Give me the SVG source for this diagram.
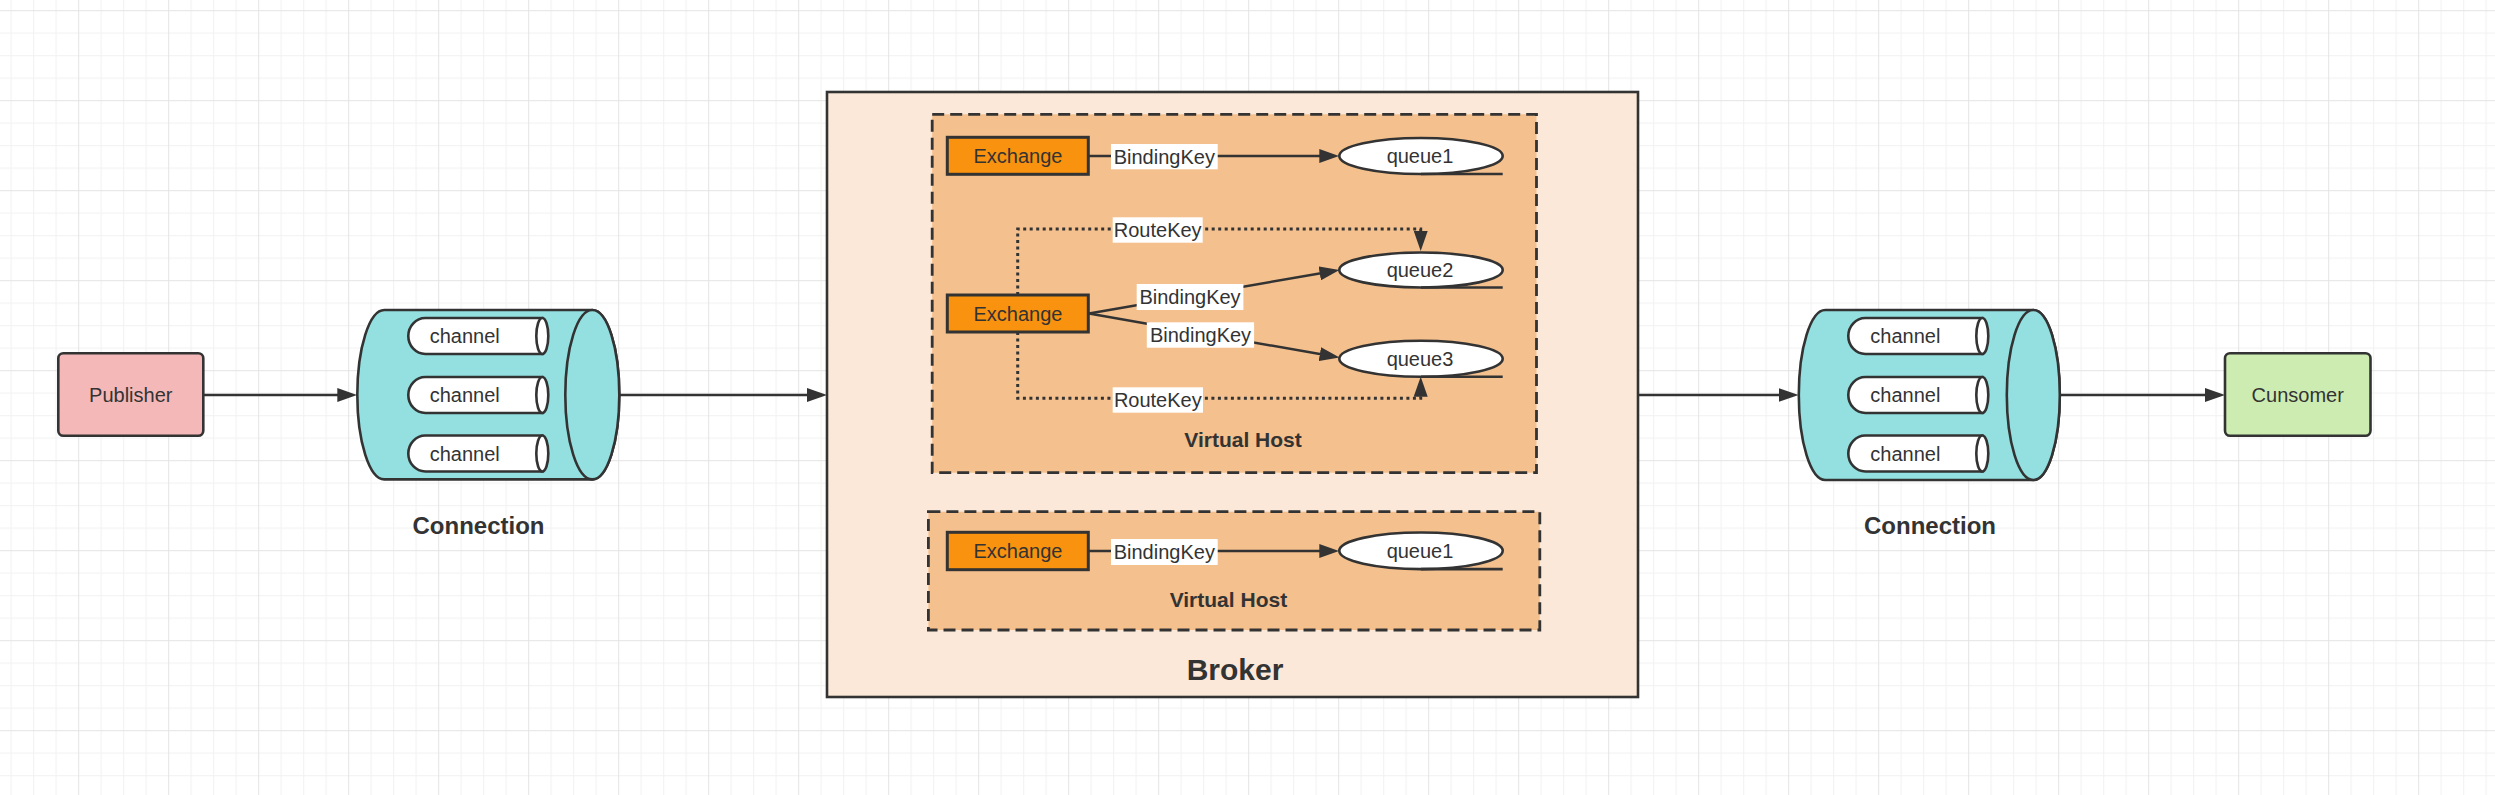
<svg xmlns="http://www.w3.org/2000/svg" width="2495" height="795" viewBox="0 0 2495 795">
<style>
text{font-family:"Liberation Sans",Arial,sans-serif;fill:#333;text-anchor:middle}
.t20{font-size:20px}
.bold{font-weight:bold}
.node{stroke:#333;stroke-width:2.6}
.cyl{fill:#94e0e1;stroke:#333;stroke-width:2.6}
.chan{fill:#fff;stroke:#333;stroke-width:2.6}
.vh{fill:#f4c08e;stroke:#333;stroke-width:2.8;stroke-dasharray:12 6}
.exch{fill:#f8920f;stroke:#333;stroke-width:3}
.queue{fill:#fff;stroke:#333;stroke-width:2.6}
.edge{fill:none;stroke:#333;stroke-width:2.4}
.dot{fill:none;stroke:#333;stroke-width:3;stroke-dasharray:3 3.5}
.lbl{fill:#fff}
</style>
<defs>
<pattern id="grid" patternUnits="userSpaceOnUse" x="78.2" y="10.2" width="90" height="90">
<path d="M23 0V90M45.5 0V90M68 0V90M0 23H90M0 45.5H90M0 68H90" stroke="#f1f1f1" stroke-width="1" fill="none"/>
<path d="M0.5 0V90M0 0.5H90" stroke="#e4e4e4" stroke-width="1" fill="none"/>
</pattern>
<marker id="arr" markerUnits="userSpaceOnUse" markerWidth="20" markerHeight="14" refX="10" refY="7" orient="auto">
<path d="M0,0 L20,7 L0,14 Z" fill="#333"/>
</marker>
</defs>
<rect width="2495" height="795" fill="#fff"/>
<rect width="2495" height="795" fill="url(#grid)"/>

<g id="broker">
<rect x="827" y="92" width="811" height="605" fill="#fbe8d8" stroke="#333" stroke-width="2.6"/>
<text x="1235" y="680" class="bold" font-size="30">Broker</text>
</g>

<g id="vhost1">
<rect class="vh" x="932.2" y="114.3" width="604.3" height="358.4"/>
<text x="1243" y="446.5" class="bold" font-size="21">Virtual Host</text>
</g>
<g id="vhost2">
<rect class="vh" x="928.4" y="511.7" width="611.4" height="118.3"/>
<text x="1228.4" y="606.5" class="bold" font-size="21">Virtual Host</text>
</g>

<g id="connectors">
<line class="edge" x1="203.3" y1="395" x2="347.3" y2="395" marker-end="url(#arr)"/>
<line class="edge" x1="619.3" y1="395" x2="817" y2="395" marker-end="url(#arr)"/>
<line class="edge" x1="1638" y1="395" x2="1788.6" y2="395" marker-end="url(#arr)"/>
<line class="edge" x1="2059.5" y1="395" x2="2215" y2="395" marker-end="url(#arr)"/>
<line class="edge" x1="1088.3" y1="156" x2="1329.3" y2="156" marker-end="url(#arr)"/>
<line class="edge" x1="1089" y1="313.5" x2="1329.6" y2="271.7" marker-end="url(#arr)"/>
<line class="edge" x1="1089" y1="313.5" x2="1329.7" y2="355.8" marker-end="url(#arr)"/>
<line class="edge" x1="1088.3" y1="551" x2="1329.3" y2="551" marker-end="url(#arr)"/>
<path class="dot" d="M1017.7 295 V229 H1420.7 V241" marker-end="url(#arr)"/>
<path class="dot" d="M1017.7 332 V398.3 H1420.7 V386.7" marker-end="url(#arr)"/>
<rect class="lbl" x="1111" y="144" width="106.7" height="25.3"/>
<text x="1164.3" y="163.5" class="t20">BindingKey</text>
<rect class="lbl" x="1112.7" y="217.3" width="90" height="25.4"/>
<text x="1157.7" y="237" class="t20">RouteKey</text>
<rect class="lbl" x="1136.7" y="284" width="106.7" height="26"/>
<text x="1190" y="304" class="t20">BindingKey</text>
<rect class="lbl" x="1146.8" y="322.3" width="107.3" height="25.4"/>
<text x="1200.5" y="342" class="t20">BindingKey</text>
<rect class="lbl" x="1112.7" y="387.3" width="90.3" height="25.4"/>
<text x="1157.8" y="407" class="t20">RouteKey</text>
<rect class="lbl" x="1111" y="539" width="106.7" height="26"/>
<text x="1164.3" y="559" class="t20">BindingKey</text>
</g>

<g id="publisher">
<rect class="node" x="58.3" y="353.3" width="145" height="82.4" rx="5" fill="#f4b8b8"/>
<text x="130.8" y="402" class="t20">Publisher</text>
</g>

<g id="connection1">
<path class="cyl" d="M384.3 310 H592.3 A27 84.7 0 0 1 592.3 479.4 H384.3 A27 84.7 0 0 1 384.3 310 Z"/>
<ellipse class="cyl" cx="592.3" cy="394.7" rx="27" ry="84.7"/>
<text x="478.5" y="533.5" class="bold" font-size="24">Connection</text>
</g>
<g id="channel1a">
<path class="chan" d="M542.3 318 H425.3 A17 18 0 0 0 425.3 354 H542.3 Z"/>
<ellipse class="chan" cx="542.3" cy="336" rx="6" ry="18"/>
<text x="464.7" y="343" class="t20">channel</text>
</g>
<g id="channel1b">
<path class="chan" d="M542.3 377 H425.3 A17 18 0 0 0 425.3 413 H542.3 Z"/>
<ellipse class="chan" cx="542.3" cy="395" rx="6" ry="18"/>
<text x="464.7" y="402" class="t20">channel</text>
</g>
<g id="channel1c">
<path class="chan" d="M542.3 435.5 H425.3 A17 18 0 0 0 425.3 471.5 H542.3 Z"/>
<ellipse class="chan" cx="542.3" cy="453.5" rx="6" ry="18"/>
<text x="464.7" y="460.5" class="t20">channel</text>
</g>

<g id="connection2">
<path class="cyl" d="M1825.3 310 H2033.3 A26.5 85 0 0 1 2033.3 480 H1825.3 A26.5 85 0 0 1 1825.3 310 Z"/>
<ellipse class="cyl" cx="2033.3" cy="395" rx="26.5" ry="85"/>
<text x="1930" y="533.5" class="bold" font-size="24">Connection</text>
</g>
<g id="channel2a">
<path class="chan" d="M1982.3 318 H1865.3 A17 18 0 0 0 1865.3 354 H1982.3 Z"/>
<ellipse class="chan" cx="1982.3" cy="336" rx="6" ry="18"/>
<text x="1905.4" y="343" class="t20">channel</text>
</g>
<g id="channel2b">
<path class="chan" d="M1982.3 377 H1865.3 A17 18 0 0 0 1865.3 413 H1982.3 Z"/>
<ellipse class="chan" cx="1982.3" cy="395" rx="6" ry="18"/>
<text x="1905.4" y="402" class="t20">channel</text>
</g>
<g id="channel2c">
<path class="chan" d="M1982.3 435.5 H1865.3 A17 18 0 0 0 1865.3 471.5 H1982.3 Z"/>
<ellipse class="chan" cx="1982.3" cy="453.5" rx="6" ry="18"/>
<text x="1905.4" y="460.5" class="t20">channel</text>
</g>

<g id="consumer">
<rect class="node" x="2225" y="353.3" width="145.5" height="82.4" rx="5" fill="#cdecb2"/>
<text x="2297.7" y="402" class="t20">Cunsomer</text>
</g>

<g id="exchange1">
<rect class="exch" x="947.3" y="137.3" width="141" height="37"/>
<text x="1018" y="163" class="t20">Exchange</text>
</g>
<g id="exchange2">
<rect class="exch" x="947.3" y="295" width="141" height="37"/>
<text x="1018" y="320.5" class="t20">Exchange</text>
</g>
<g id="exchange3">
<rect class="exch" x="947.3" y="532.3" width="141" height="37.4"/>
<text x="1018" y="558" class="t20">Exchange</text>
</g>

<g id="queue1">
<ellipse class="queue" cx="1421" cy="156" rx="81.7" ry="18"/>
<path class="queue" d="M1421 174 H1502.7"/>
<text x="1420" y="163" class="t20">queue1</text>
</g>
<g id="queue2">
<ellipse class="queue" cx="1421" cy="270" rx="81.7" ry="17.5"/>
<path class="queue" d="M1421 287.5 H1502.7"/>
<text x="1420" y="277" class="t20">queue2</text>
</g>
<g id="queue3">
<ellipse class="queue" cx="1421" cy="358.7" rx="81.7" ry="18"/>
<path class="queue" d="M1421 376.7 H1502.7"/>
<text x="1420" y="365.7" class="t20">queue3</text>
</g>
<g id="queue4">
<ellipse class="queue" cx="1421" cy="550.8" rx="81.7" ry="18.3"/>
<path class="queue" d="M1421 569.1 H1502.7"/>
<text x="1420" y="558" class="t20">queue1</text>
</g>
</svg>
